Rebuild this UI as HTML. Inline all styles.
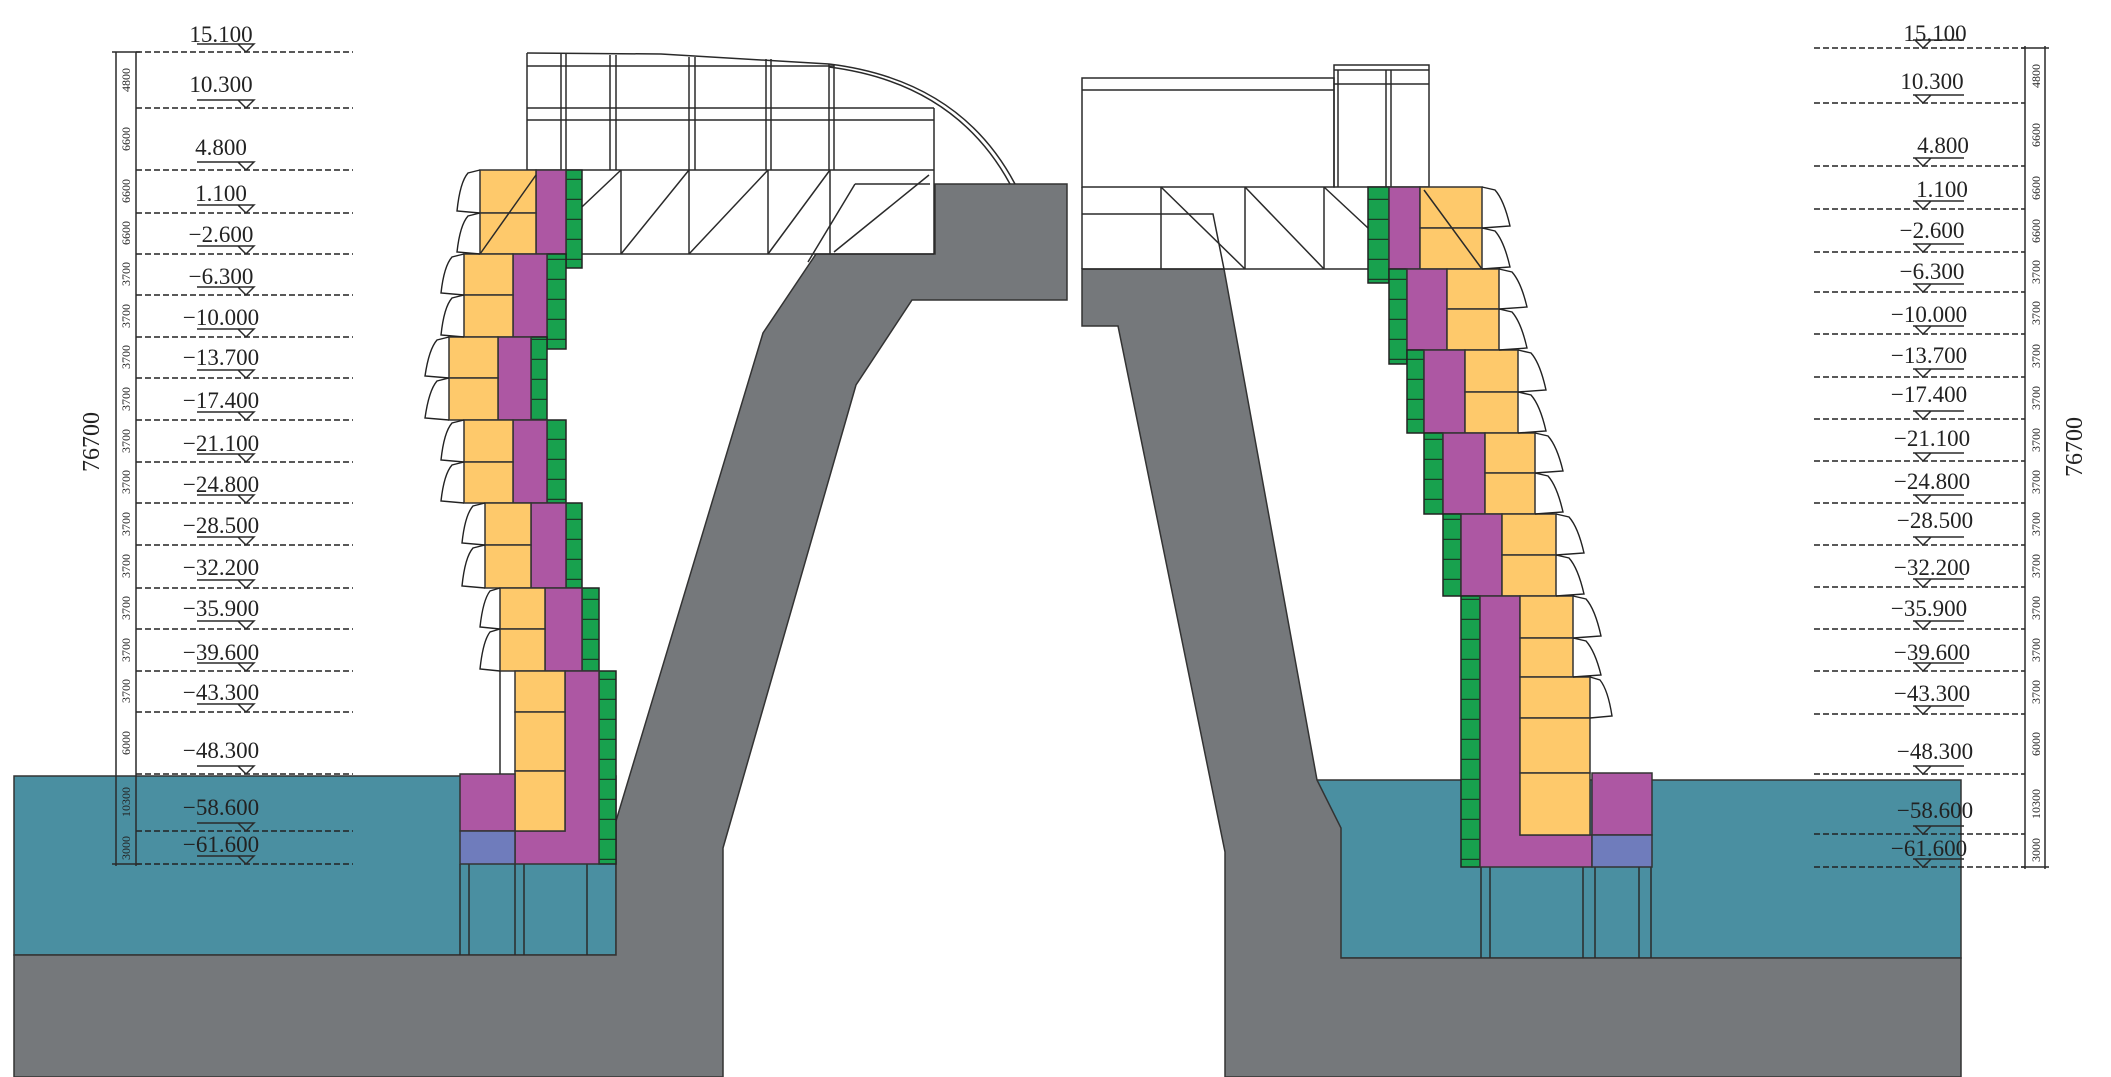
<!DOCTYPE html>
<html><head><meta charset="utf-8"><style>
html,body{margin:0;padding:0;background:#fff}
svg{display:block}
text{font-family:"Liberation Serif",serif;fill:#222}
.lb{font-size:23px;text-anchor:middle}
.sm{font-size:12px;text-anchor:middle}
.d{stroke:#222;stroke-width:1.6;stroke-dasharray:6 3;fill:none}
.k{stroke:#2a2a2a;stroke-width:1.5;fill:none}
.o{fill:#fec96b;stroke:#333;stroke-width:1.5}
.p{fill:#ad57a3;stroke:#333;stroke-width:1.5}
.g{fill:url(#gp);stroke:#222;stroke-width:1.5}
.b{fill:#6f7cbc;stroke:#333;stroke-width:1.5}
.h{fill:none;stroke:#222;stroke-width:1.4}
</style></head><body>
<svg width="2111" height="1077" viewBox="0 0 2111 1077" xmlns="http://www.w3.org/2000/svg">
<defs>
<pattern id="gp" patternUnits="userSpaceOnUse" width="40" height="20"><rect width="40" height="20" fill="#18a14e"/><line x1="0" y1="19.5" x2="40" y2="19.5" stroke="#1c3a26" stroke-width="1.5"/></pattern>
</defs>

<rect x="14" y="776" width="602" height="179" fill="#4a8fa1" stroke="#333" stroke-width="1.5"/>
<polygon points="14,955 616,955 616,821 763,333 816,254 935,254 935,184 1067,184 1067,300 912,300 856,385 723,848 723,1077 14,1077" fill="#75787b" stroke="#333" stroke-width="1.5"/>
<rect x="1317" y="780" width="644" height="178" fill="#4a8fa1" stroke="#333" stroke-width="1.5"/>
<polygon points="1082,269 1224,269 1317,780 1341,828 1341,958 1961,958 1961,1077 1225,1077 1225,852 1118,326 1082,326" fill="#75787b" stroke="#333" stroke-width="1.5"/>

<g class="k"><line x1="460" y1="864" x2="460" y2="955"/><line x1="469" y1="864" x2="469" y2="955"/><line x1="515" y1="864" x2="515" y2="955"/><line x1="524" y1="864" x2="524" y2="955"/><line x1="587" y1="864" x2="587" y2="955"/></g>
<g class="k"><line x1="1481" y1="867" x2="1481" y2="958"/><line x1="1490" y1="867" x2="1490" y2="958"/><line x1="1583" y1="867" x2="1583" y2="958"/><line x1="1595" y1="867" x2="1595" y2="958"/><line x1="1639" y1="867" x2="1639" y2="958"/><line x1="1651" y1="867" x2="1651" y2="958"/></g>

<g class="k">
<path d="M527,53 L661,54 L829,64 Q960,80 1015,184"/>
<path d="M829,67 Q955,83 1010,184"/>
<line x1="527" y1="53" x2="527" y2="170"/>
<line x1="527" y1="66" x2="834" y2="66"/>
<line x1="527" y1="108" x2="934" y2="108"/>
<line x1="527" y1="120" x2="934" y2="120"/>
<line x1="934" y1="108" x2="934" y2="170"/>
<line x1="527" y1="170" x2="934" y2="170"/>
<line x1="561" y1="54" x2="561" y2="170"/><line x1="566" y1="54" x2="566" y2="170"/>
<line x1="610" y1="55" x2="610" y2="170"/><line x1="616" y1="55" x2="616" y2="170"/>
<line x1="689" y1="57" x2="689" y2="170"/><line x1="695" y1="57" x2="695" y2="170"/>
<line x1="766" y1="59" x2="766" y2="170"/><line x1="771" y1="59" x2="771" y2="170"/>
<line x1="829" y1="64" x2="829" y2="170"/><line x1="834" y1="64" x2="834" y2="170"/>
<line x1="566" y1="254" x2="934" y2="254"/>
<line x1="934" y1="170" x2="934" y2="254"/>
<line x1="621" y1="170" x2="621" y2="254"/><line x1="689" y1="170" x2="689" y2="254"/><line x1="768" y1="170" x2="768" y2="254"/><line x1="830" y1="170" x2="830" y2="254"/>
<line x1="566" y1="222" x2="621" y2="170"/><line x1="621" y1="254" x2="689" y2="170"/><line x1="689" y1="254" x2="768" y2="170"/><line x1="768" y1="254" x2="830" y2="170"/><line x1="834" y1="252" x2="929" y2="175"/>
<polyline points="855,184 930,184"/><line x1="855" y1="184" x2="808" y2="262"/>
</g>

<g class="k">
<rect x="1082" y="78" width="252" height="109"/>
<line x1="1082" y1="90" x2="1334" y2="90"/>
<rect x="1334" y="65" width="95" height="122"/>
<line x1="1334" y1="70" x2="1429" y2="70"/><line x1="1334" y1="84" x2="1429" y2="84"/>
<line x1="1338" y1="70" x2="1338" y2="187"/><line x1="1386" y1="70" x2="1386" y2="187"/><line x1="1391" y1="70" x2="1391" y2="187"/>
<line x1="1082" y1="187" x2="1082" y2="269"/>
<line x1="1082" y1="269" x2="1368" y2="269"/>
<polyline points="1082,214 1213,214 1224,269"/>
<line x1="1161" y1="187" x2="1161" y2="269"/><line x1="1245" y1="187" x2="1245" y2="269"/><line x1="1324" y1="187" x2="1324" y2="269"/>
<line x1="1161" y1="187" x2="1245" y2="269"/><line x1="1245" y1="187" x2="1324" y2="269"/><line x1="1324" y1="187" x2="1368" y2="228"/>
</g>

<g>
<rect class="g" x="566" y="170" width="16" height="98"/>
<rect class="p" x="536" y="170" width="30" height="84"/>
<rect class="o" x="480" y="170" width="56" height="43"/><rect class="o" x="480" y="213" width="56" height="41"/>
<line class="k" x1="480" y1="254" x2="536" y2="175"/>
<rect class="g" x="547" y="254" width="19" height="95"/>
<rect class="p" x="513" y="254" width="34" height="83"/>
<rect class="o" x="464" y="254" width="49" height="41"/><rect class="o" x="464" y="295" width="49" height="42"/>
<rect class="g" x="531" y="337" width="16" height="83"/>
<rect class="p" x="498" y="337" width="33" height="83"/>
<rect class="o" x="449" y="337" width="49" height="41"/><rect class="o" x="449" y="378" width="49" height="42"/>
<rect class="g" x="547" y="420" width="19" height="83"/>
<rect class="p" x="513" y="420" width="34" height="83"/>
<rect class="o" x="464" y="420" width="49" height="42"/><rect class="o" x="464" y="462" width="49" height="41"/>
<rect class="g" x="566" y="503" width="16" height="85"/>
<rect class="p" x="531" y="503" width="35" height="85"/>
<rect class="o" x="485" y="503" width="46" height="42"/><rect class="o" x="485" y="545" width="46" height="43"/>
<rect class="g" x="582" y="588" width="17" height="83"/>
<rect class="p" x="545" y="588" width="37" height="83"/>
<rect class="o" x="500" y="588" width="45" height="41"/><rect class="o" x="500" y="629" width="45" height="42"/>
<rect class="g" x="599" y="671" width="17" height="193"/>
<path class="p" d="M565,671 H599 V864 H515 V831 H565 Z"/>
<rect class="o" x="515" y="671" width="50" height="41"/><rect class="o" x="515" y="712" width="50" height="59"/><rect class="o" x="515" y="771" width="50" height="60"/>
<rect class="p" x="460" y="774" width="55" height="57"/>
<rect class="b" x="460" y="831" width="55" height="33"/>
<line class="k" x1="500" y1="671" x2="500" y2="774"/>
</g>
<g class="h">
<path d="M480,170 L468,173 Q460,182 457,211 L480,213"/>
<path d="M480,213 L468,216 Q460,225 457,252 L480,254"/>
<path d="M464,254 L452,257 Q444,266 441,293 L464,295"/>
<path d="M464,295 L452,298 Q444,307 441,335 L464,337"/>
<path d="M449,337 L437,340 Q429,349 425,376 L449,378"/>
<path d="M449,378 L437,381 Q429,390 425,418 L449,420"/>
<path d="M464,420 L452,423 Q444,432 441,460 L464,462"/>
<path d="M464,462 L452,465 Q444,474 441,501 L464,503"/>
<path d="M485,503 L473,506 Q465,515 462,543 L485,545"/>
<path d="M485,545 L473,548 Q465,557 462,586 L485,588"/>
<path d="M500,588 L490,591 Q483,600 480,627 L500,629"/>
<path d="M500,629 L490,632 Q483,641 480,669 L500,671"/>
</g>

<g>
<rect class="g" x="1368" y="187" width="21" height="96"/>
<rect class="p" x="1389" y="187" width="31" height="82"/>
<rect class="o" x="1420" y="187" width="62" height="41"/><rect class="o" x="1420" y="228" width="62" height="41"/>
<line class="k" x1="1424" y1="190" x2="1482" y2="269"/>
<rect class="g" x="1389" y="269" width="18" height="95"/>
<rect class="p" x="1407" y="269" width="40" height="81"/>
<rect class="o" x="1447" y="269" width="52" height="40"/><rect class="o" x="1447" y="309" width="52" height="41"/>
<rect class="g" x="1407" y="350" width="17" height="83"/>
<rect class="p" x="1424" y="350" width="41" height="83"/>
<rect class="o" x="1465" y="350" width="53" height="42"/><rect class="o" x="1465" y="392" width="53" height="41"/>
<rect class="g" x="1424" y="433" width="19" height="81"/>
<rect class="p" x="1443" y="433" width="42" height="81"/>
<rect class="o" x="1485" y="433" width="50" height="40"/><rect class="o" x="1485" y="473" width="50" height="41"/>
<rect class="g" x="1443" y="514" width="18" height="82"/>
<rect class="p" x="1461" y="514" width="41" height="82"/>
<rect class="o" x="1502" y="514" width="54" height="41"/><rect class="o" x="1502" y="555" width="54" height="41"/>
<rect class="g" x="1461" y="596" width="19" height="271"/>
<path class="p" d="M1480,596 H1520 V835 H1592 V867 H1480 Z"/>
<rect class="o" x="1520" y="596" width="53" height="42"/><rect class="o" x="1520" y="638" width="53" height="39"/>
<rect class="o" x="1520" y="677" width="70" height="41"/><rect class="o" x="1520" y="718" width="70" height="55"/><rect class="o" x="1520" y="773" width="70" height="62"/>
<rect class="p" x="1592" y="773" width="60" height="62"/>
<rect class="b" x="1592" y="835" width="60" height="32"/>
</g>
<g class="h">
<path d="M1482,187 L1495,190 Q1504,200 1510,226 L1482,228"/>
<path d="M1482,228 L1495,231 Q1504,241 1510,267 L1482,269"/>
<path d="M1499,269 L1512,272 Q1521,282 1527,307 L1499,309"/>
<path d="M1499,309 L1512,312 Q1521,322 1527,348 L1499,350"/>
<path d="M1518,350 L1531,353 Q1540,363 1546,390 L1518,392"/>
<path d="M1518,392 L1531,395 Q1540,405 1546,431 L1518,433"/>
<path d="M1535,433 L1548,436 Q1557,446 1563,471 L1535,473"/>
<path d="M1535,473 L1548,476 Q1557,486 1563,512 L1535,514"/>
<path d="M1556,514 L1569,517 Q1578,527 1584,553 L1556,555"/>
<path d="M1556,555 L1569,558 Q1578,568 1584,594 L1556,596"/>
<path d="M1573,596 L1586,599 Q1595,609 1601,636 L1573,638"/>
<path d="M1573,638 L1586,641 Q1595,651 1601,675 L1573,677"/>
<path d="M1590,677 L1600,680 Q1608,690 1612,716 L1590,718"/>
</g>

<g class="d">
<line x1="136" y1="52" x2="353" y2="52"/><line x1="136" y1="108" x2="353" y2="108"/><line x1="136" y1="170" x2="353" y2="170"/><line x1="136" y1="213" x2="353" y2="213"/><line x1="136" y1="254" x2="353" y2="254"/><line x1="136" y1="295" x2="353" y2="295"/><line x1="136" y1="337" x2="353" y2="337"/><line x1="136" y1="378" x2="353" y2="378"/><line x1="136" y1="420" x2="353" y2="420"/><line x1="136" y1="462" x2="353" y2="462"/><line x1="136" y1="503" x2="353" y2="503"/><line x1="136" y1="545" x2="353" y2="545"/><line x1="136" y1="588" x2="353" y2="588"/><line x1="136" y1="629" x2="353" y2="629"/><line x1="136" y1="671" x2="353" y2="671"/><line x1="136" y1="712" x2="353" y2="712"/><line x1="136" y1="774" x2="353" y2="774"/><line x1="136" y1="831" x2="353" y2="831"/><line x1="136" y1="864" x2="353" y2="864"/>
</g>
<g class="k"><line x1="116" y1="52" x2="116" y2="866"/><line x1="136" y1="52" x2="136" y2="866"/><line x1="112" y1="52" x2="140" y2="52"/><line x1="112" y1="864" x2="140" y2="864"/></g>
<g class="k">
<path d="M197,44 H253 M238,44 L254,44 L246,52 Z"/><path d="M197,100 H253 M238,100 L254,100 L246,108 Z"/><path d="M197,162 H253 M238,162 L254,162 L246,170 Z"/><path d="M197,205 H253 M238,205 L254,205 L246,213 Z"/><path d="M197,246 H253 M238,246 L254,246 L246,254 Z"/><path d="M197,287 H253 M238,287 L254,287 L246,295 Z"/><path d="M197,329 H253 M238,329 L254,329 L246,337 Z"/><path d="M197,370 H253 M238,370 L254,370 L246,378 Z"/><path d="M197,412 H253 M238,412 L254,412 L246,420 Z"/><path d="M197,454 H253 M238,454 L254,454 L246,462 Z"/><path d="M197,495 H253 M238,495 L254,495 L246,503 Z"/><path d="M197,537 H253 M238,537 L254,537 L246,545 Z"/><path d="M197,580 H253 M238,580 L254,580 L246,588 Z"/><path d="M197,621 H253 M238,621 L254,621 L246,629 Z"/><path d="M197,663 H253 M238,663 L254,663 L246,671 Z"/><path d="M197,704 H253 M238,704 L254,704 L246,712 Z"/><path d="M197,766 H253 M238,766 L254,766 L246,774 Z"/><path d="M197,823 H253 M238,823 L254,823 L246,831 Z"/><path d="M197,856 H253 M238,856 L254,856 L246,864 Z"/>
</g>
<g class="lb">
<text x="221" y="42">15.100</text><text x="221" y="92">10.300</text><text x="221" y="155">4.800</text><text x="221" y="201">1.100</text><text x="221" y="242">−2.600</text><text x="221" y="284">−6.300</text><text x="221" y="325">−10.000</text><text x="221" y="365">−13.700</text><text x="221" y="408">−17.400</text><text x="221" y="451">−21.100</text><text x="221" y="492">−24.800</text><text x="221" y="533">−28.500</text><text x="221" y="575">−32.200</text><text x="221" y="616">−35.900</text><text x="221" y="660">−39.600</text><text x="221" y="700">−43.300</text><text x="221" y="758">−48.300</text><text x="221" y="815">−58.600</text><text x="221" y="852">−61.600</text>
</g>
<text x="0" y="0" transform="translate(99,442) rotate(-90)" style="font-size:24px;text-anchor:middle">76700</text>
<g class="sm">
<text transform="translate(130,80) rotate(-90)">4800</text><text transform="translate(130,139) rotate(-90)">6600</text><text transform="translate(130,191) rotate(-90)">6600</text><text transform="translate(130,233) rotate(-90)">6600</text><text transform="translate(130,274) rotate(-90)">3700</text><text transform="translate(130,316) rotate(-90)">3700</text><text transform="translate(130,357) rotate(-90)">3700</text><text transform="translate(130,399) rotate(-90)">3700</text><text transform="translate(130,441) rotate(-90)">3700</text><text transform="translate(130,482) rotate(-90)">3700</text><text transform="translate(130,524) rotate(-90)">3700</text><text transform="translate(130,566) rotate(-90)">3700</text><text transform="translate(130,608) rotate(-90)">3700</text><text transform="translate(130,650) rotate(-90)">3700</text><text transform="translate(130,691) rotate(-90)">3700</text><text transform="translate(130,743) rotate(-90)">6000</text><text transform="translate(130,802) rotate(-90)">10300</text><text transform="translate(130,848) rotate(-90)">3000</text>
</g>

<g class="d">
<line x1="1814" y1="48" x2="2025" y2="48"/><line x1="1814" y1="103" x2="2025" y2="103"/><line x1="1814" y1="166" x2="2025" y2="166"/><line x1="1814" y1="209" x2="2025" y2="209"/><line x1="1814" y1="252" x2="2025" y2="252"/><line x1="1814" y1="292" x2="2025" y2="292"/><line x1="1814" y1="334" x2="2025" y2="334"/><line x1="1814" y1="377" x2="2025" y2="377"/><line x1="1814" y1="419" x2="2025" y2="419"/><line x1="1814" y1="461" x2="2025" y2="461"/><line x1="1814" y1="503" x2="2025" y2="503"/><line x1="1814" y1="545" x2="2025" y2="545"/><line x1="1814" y1="587" x2="2025" y2="587"/><line x1="1814" y1="629" x2="2025" y2="629"/><line x1="1814" y1="671" x2="2025" y2="671"/><line x1="1814" y1="714" x2="2025" y2="714"/><line x1="1814" y1="774" x2="2025" y2="774"/><line x1="1814" y1="834" x2="2025" y2="834"/><line x1="1814" y1="867" x2="2025" y2="867"/>
</g>
<g class="k"><line x1="2025" y1="46" x2="2025" y2="869"/><line x1="2045" y1="46" x2="2045" y2="869"/><line x1="2021" y1="48" x2="2049" y2="48"/><line x1="2021" y1="867" x2="2049" y2="867"/></g>
<g class="k">
<path d="M1913,40 H1964 M1915,40 L1931,40 L1923,48 Z"/><path d="M1913,95 H1964 M1915,95 L1931,95 L1923,103 Z"/><path d="M1913,158 H1964 M1915,158 L1931,158 L1923,166 Z"/><path d="M1913,201 H1964 M1915,201 L1931,201 L1923,209 Z"/><path d="M1913,244 H1964 M1915,244 L1931,244 L1923,252 Z"/><path d="M1913,284 H1964 M1915,284 L1931,284 L1923,292 Z"/><path d="M1913,326 H1964 M1915,326 L1931,326 L1923,334 Z"/><path d="M1913,369 H1964 M1915,369 L1931,369 L1923,377 Z"/><path d="M1913,411 H1964 M1915,411 L1931,411 L1923,419 Z"/><path d="M1913,453 H1964 M1915,453 L1931,453 L1923,461 Z"/><path d="M1913,495 H1964 M1915,495 L1931,495 L1923,503 Z"/><path d="M1913,537 H1964 M1915,537 L1931,537 L1923,545 Z"/><path d="M1913,579 H1964 M1915,579 L1931,579 L1923,587 Z"/><path d="M1913,621 H1964 M1915,621 L1931,621 L1923,629 Z"/><path d="M1913,663 H1964 M1915,663 L1931,663 L1923,671 Z"/><path d="M1913,706 H1964 M1915,706 L1931,706 L1923,714 Z"/><path d="M1913,766 H1964 M1915,766 L1931,766 L1923,774 Z"/><path d="M1913,826 H1964 M1915,826 L1931,826 L1923,834 Z"/><path d="M1913,859 H1964 M1915,859 L1931,859 L1923,867 Z"/>
</g>
<g class="lb">
<text x="1935" y="41">15.100</text><text x="1932" y="89">10.300</text><text x="1943" y="153">4.800</text><text x="1942" y="197">1.100</text><text x="1932" y="238">−2.600</text><text x="1932" y="279">−6.300</text><text x="1929" y="322">−10.000</text><text x="1929" y="363">−13.700</text><text x="1929" y="402">−17.400</text><text x="1932" y="446">−21.100</text><text x="1932" y="489">−24.800</text><text x="1935" y="528">−28.500</text><text x="1932" y="575">−32.200</text><text x="1929" y="616">−35.900</text><text x="1932" y="660">−39.600</text><text x="1932" y="701">−43.300</text><text x="1935" y="759">−48.300</text><text x="1935" y="818">−58.600</text><text x="1929" y="856">−61.600</text>
</g>
<text x="0" y="0" transform="translate(2082,447) rotate(-90)" style="font-size:24px;text-anchor:middle">76700</text>
<g class="sm">
<text transform="translate(2040,76) rotate(-90)">4800</text><text transform="translate(2040,135) rotate(-90)">6600</text><text transform="translate(2040,188) rotate(-90)">6600</text><text transform="translate(2040,231) rotate(-90)">6600</text><text transform="translate(2040,272) rotate(-90)">3700</text><text transform="translate(2040,313) rotate(-90)">3700</text><text transform="translate(2040,356) rotate(-90)">3700</text><text transform="translate(2040,398) rotate(-90)">3700</text><text transform="translate(2040,440) rotate(-90)">3700</text><text transform="translate(2040,482) rotate(-90)">3700</text><text transform="translate(2040,524) rotate(-90)">3700</text><text transform="translate(2040,566) rotate(-90)">3700</text><text transform="translate(2040,608) rotate(-90)">3700</text><text transform="translate(2040,650) rotate(-90)">3700</text><text transform="translate(2040,692) rotate(-90)">3700</text><text transform="translate(2040,744) rotate(-90)">6000</text><text transform="translate(2040,804) rotate(-90)">10300</text><text transform="translate(2040,850) rotate(-90)">3000</text>
</g>
</svg>
</body></html>
